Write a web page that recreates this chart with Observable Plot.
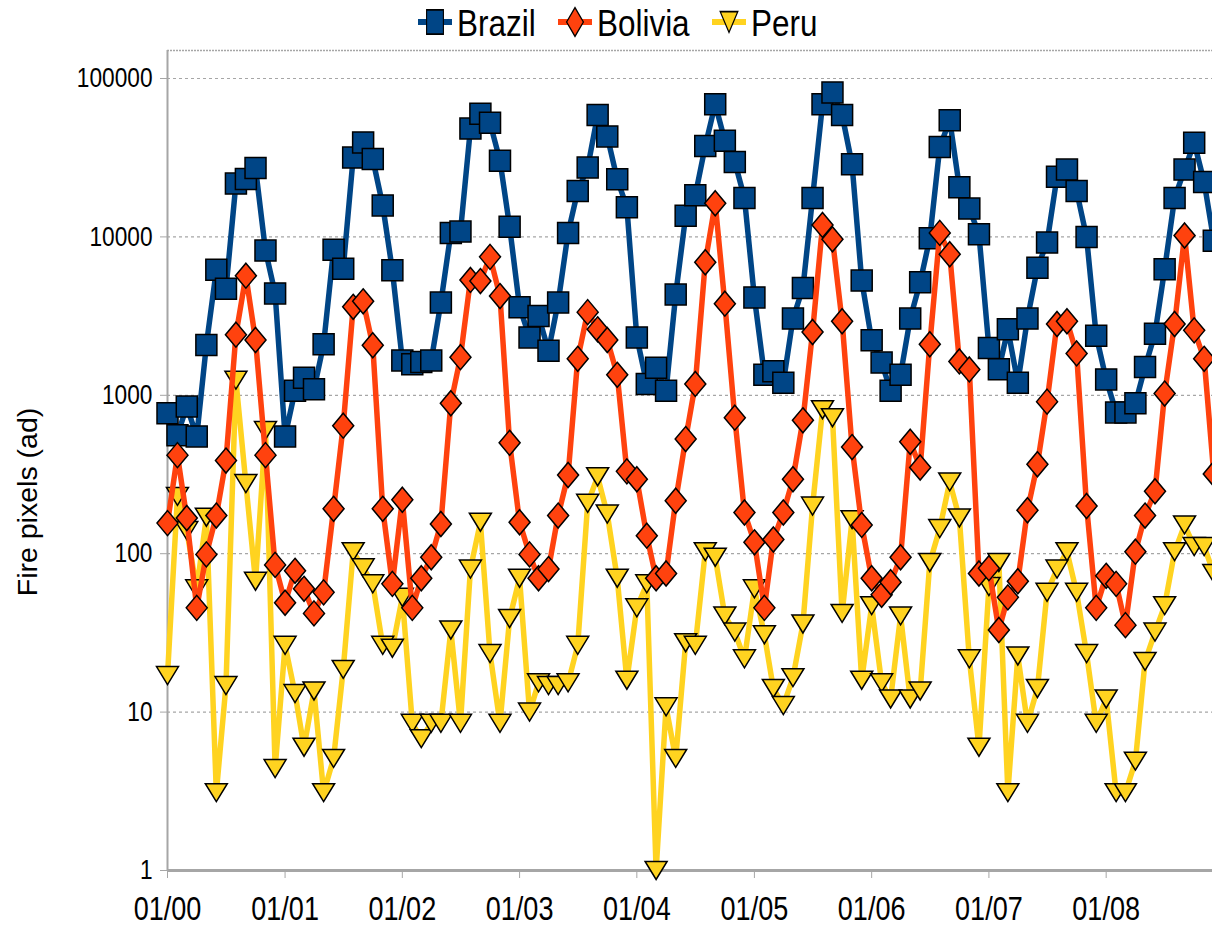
<!DOCTYPE html>
<html>
<head>
<meta charset="utf-8">
<script src="https://cdn.jsdelivr.net/npm/d3@7"></script>
<script src="https://cdn.jsdelivr.net/npm/@observablehq/plot@0.6"></script>
<style>
  html, body { margin: 0; padding: 0; background: #fff; overflow: hidden; }
  #wrap { position: relative; width: 1212px; height: 926px; }
  #overlay { position: absolute; left: 0; top: 0; pointer-events: none; }
  #chart svg [aria-label^="x-axis"], #chart svg [aria-label^="y-axis"] { color: #a6a6a6; }
  #chart svg [aria-label^="x-axis"] text { fill: #000; font-size: 33px; font-family: "Liberation Sans", Arial, sans-serif; }
  #chart svg [aria-label^="y-axis"] text { fill: #000; font-size: 27px; font-family: "Liberation Sans", Arial, sans-serif; }
</style>
</head>
<body>
<div id="wrap">
  <div id="chart"></div>
  <svg id="overlay" width="1212" height="926"></svg>
</div>
<script>
// ---- data ----
const seriesNames = ["Brazil", "Bolivia", "Peru"];
const yAxisTitle = "Fire pixels (ad)";
const startYear = 2000;
const yTicks = [1, 10, 100, 1000, 10000, 100000];
const xTickLabels = ["01/00", "01/01", "01/02", "01/03", "01/04", "01/05", "01/06", "01/07", "01/08"];

const brazil = [
  770, 560, 850, 550, 2080, 6200, 4700, 21700, 23200, 27200, 8200, 4400,
  550, 1070, 1290, 1090, 2100, 8300, 6300, 31700, 39500, 31000, 15800, 6150,
  1660, 1570, 1620, 1660, 3850, 10600, 10800, 48300, 60000, 52500, 30300, 11600,
  3600, 2320, 3170, 1910, 3850, 10600, 19500, 27400, 58900, 43100, 23100, 15400,
  2320, 1180, 1490, 1070, 4330, 13600, 18300, 37500, 68800, 40500, 29700, 17600,
  4150, 1350, 1420, 1200, 3050, 4760, 17600, 68800, 81700, 58900, 28700, 5300,
  2230, 1610, 1070, 1350, 3050, 5180, 9800, 36900, 54500, 20600, 15100, 10400,
  1990, 1460, 2610, 1200, 3050, 6390, 9220, 24000, 26600, 19500, 9970, 2380,
  1260, 780, 780, 890, 1510, 2450, 6250, 17600, 26600, 39300, 22200, 9440
];
const bolivia = [
  156, 419, 168, 45.5, 99, 174, 387, 2415, 5690, 2235, 419, 85,
  49, 78, 60, 42, 57, 192, 643, 3620, 3920, 2070, 192, 64.5,
  219, 45.5, 70, 95, 154, 891, 1740, 5350, 5260, 7480, 4230, 501,
  158, 99, 70, 80, 174, 314, 1700, 3350, 2610, 2235, 1347, 331,
  295, 130, 70, 75, 216, 529, 1180, 6920, 16300, 3790, 722, 182,
  118, 45.5, 123, 182, 295, 695, 2510, 11900, 9660, 2935, 471, 152,
  70, 55, 66, 95, 509, 350, 2100, 10600, 7770, 1636, 1456, 75,
  81, 33, 53, 67, 188, 367, 912, 2820, 2935, 1838, 200, 45.5,
  72.5, 64.5, 35.4, 103, 174, 248, 1025, 2820, 10200, 2570, 1700, 319
];
const peru = [
  17, 230, 140, 60, 170, 3.1, 14.7, 1246, 277, 67, 600, 4.4,
  26.4, 13.1, 6.0, 13.6, 3.1, 5.1, 18.6, 103, 81.5, 64.5, 26.4, 25.3,
  53, 8.5, 6.8, 8.5, 8.5, 33, 8.5, 80, 158, 23.4, 8.5, 39,
  70, 10, 15.3, 14.7, 14.7, 15.3, 26.4, 208, 306, 178, 70, 15.9,
  45.5, 64.5, 1, 10.8, 5.1, 27.4, 26.4, 103, 95, 40.5, 32, 21.7,
  60, 30.8, 14.1, 11, 16.5, 36, 200, 811, 722, 42, 164, 15.9,
  47, 15.3, 12.1, 40.5, 12.1, 13.6, 88, 144, 284, 168, 21.7, 6.0,
  62, 88, 3.1, 22.6, 8.5, 14.1, 57, 80, 103, 57, 23.4, 8.5,
  12.1, 3.1, 3.1, 4.9, 20.9, 32, 47, 103, 152, 111, 111, 75
];

// ---- styles ----
const colors = {Brazil: "#004586", Bolivia: "#ff420e", Peru: "#ffd320"};
const symSquare = {draw(c) { c.rect(-10.5, -10.5, 21, 21); }};
const symDiamond = {draw(c) { c.moveTo(0, -12.5); c.lineTo(10.5, 0); c.lineTo(0, 12.5); c.lineTo(-10.5, 0); c.closePath(); }};
const symTriDown = {draw(c) { c.moveTo(-11, -9); c.lineTo(11, -9); c.lineTo(0, 9); c.closePath(); }};
const symbols = {Brazil: symSquare, Bolivia: symDiamond, Peru: symTriDown};

const toRows = (vals) => vals.map((v, i) => ({date: new Date(Date.UTC(startYear, i, 1)), value: v}));
const rows = {Brazil: toRows(brazil), Bolivia: toRows(bolivia), Peru: toRows(peru)};

const x0 = new Date(Date.UTC(startYear, 0, 1));
const x1 = new Date(x0.getTime() + 3253 * 864e5);
const yMax = Math.pow(10, 820 / 158.4);
const xTickDates = xTickLabels.map((_, i) => new Date(Date.UTC(startYear + i, 0, 1)));

const seriesMarks = (name) => [
  Plot.line(rows[name], {x: "date", y: "value", stroke: colors[name], strokeWidth: 5.5}),
  Plot.dot(rows[name], {x: "date", y: "value", symbol: symbols[name], r: 10, fill: colors[name], stroke: "#000", strokeWidth: 1.5})
];

const chart = Plot.plot({
  width: 1212,
  height: 926,
  marginLeft: 167,
  marginRight: 0,
  marginTop: 50,
  marginBottom: 56,
  style: {background: "#fff", overflow: "hidden", fontFamily: "Liberation Sans, Arial, sans-serif"},
  x: {type: "utc", domain: [x0, x1], ticks: xTickDates,
      tickFormat: (d) => xTickLabels[d.getUTCFullYear() - startYear], tickSize: 8, tickPadding: 18, label: null},
  y: {type: "log", domain: [1, yMax], ticks: yTicks, tickFormat: (d) => String(d),
      tickSize: 7, tickPadding: 8, label: null},
  marks: [
    Plot.ruleY(yTicks.slice(1), {stroke: "#a6a6a6", strokeWidth: 1.2, strokeDasharray: "3,3"}),
    Plot.ruleY([yMax], {stroke: "#a6a6a6", strokeWidth: 1.5, strokeDasharray: "2,1"}),
    Plot.ruleX([x0], {stroke: "#a6a6a6", strokeWidth: 2}),
    Plot.ruleY([1], {stroke: "#a6a6a6", strokeWidth: 3}),
    ...seriesMarks("Brazil"),
    ...seriesMarks("Peru"),
    ...seriesMarks("Bolivia")
  ]
});
document.getElementById("chart").appendChild(chart);

// horizontally condense text to match the narrow look of the original
function squeeze(nodes, f) {
  nodes.forEach((t) => {
    const L = t.getComputedTextLength();
    if (L > 0) {
      t.setAttribute("textLength", (L * f).toFixed(1));
      t.setAttribute("lengthAdjust", "spacingAndGlyphs");
    }
  });
}
squeeze(chart.querySelectorAll('[aria-label^="x-axis"] text'), 0.82);
squeeze(chart.querySelectorAll('[aria-label^="y-axis"] text'), 0.84);

// ---- overlay: legend and y-axis title ----
const ov = d3.select("#overlay");
const legendX = [418, 558, 712];
seriesNames.forEach((name, i) => {
  const g = ov.append("g").attr("transform", `translate(${legendX[i]},22)`);
  g.append("line").attr("x1", 0).attr("x2", 34).attr("y1", 0).attr("y2", 0)
    .attr("stroke", colors[name]).attr("stroke-width", 6);
  const p = d3.path(); symbols[name].draw(p);
  g.append("path").attr("d", p.toString()).attr("transform", "translate(17,0) scale(0.8,1.15)")
    .attr("fill", colors[name]).attr("stroke", "#000").attr("stroke-width", 1.4);
  g.append("text").attr("x", 39).attr("y", 14).text(name)
    .attr("font-family", "Liberation Sans, Arial, sans-serif")
    .attr("font-size", 37).attr("fill", "#000");
});
squeeze(ov.selectAll("text").nodes(), 0.85);

ov.append("text")
  .attr("transform", "translate(37,502) rotate(-90)")
  .attr("text-anchor", "middle")
  .attr("font-family", "Liberation Sans, Arial, sans-serif")
  .attr("font-size", 28.5)
  .attr("fill", "#000")
  .text(yAxisTitle);
</script>
</body>
</html>
